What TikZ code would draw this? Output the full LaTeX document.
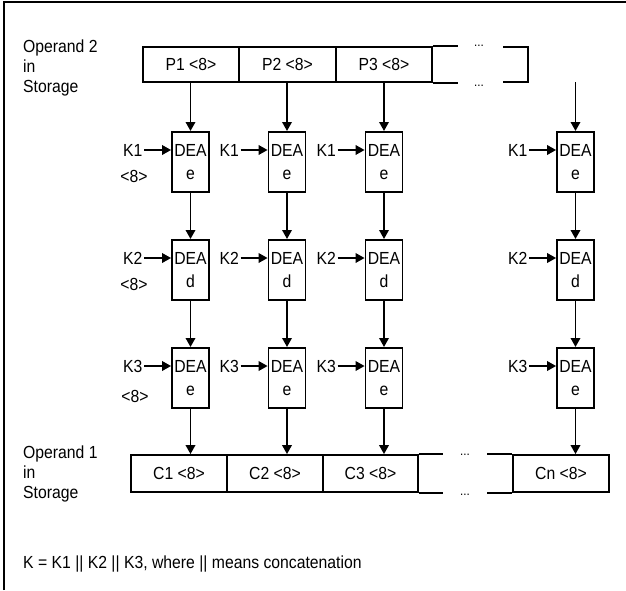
\documentclass[tikz,border=0pt]{standalone}
\usepackage{fontspec}
\setmainfont{Liberation Sans}[FakeStretch=0.9]
\usetikzlibrary{arrows.meta}
\begin{document}
\begin{tikzpicture}[x=1pt,y=-1pt,font=\fontsize{17.5}{20}\selectfont,
  ln/.style={line width=1.8pt},
  arr/.style={ln,-{Triangle[width=9.5pt,length=9pt]}},
  dea/.style={draw,ln,minimum width=37pt,minimum height=60pt,inner sep=0pt,anchor=north},
  cell/.style={draw,ln,minimum width=96pt,minimum height=35pt,inner sep=0pt},
  ccell/.style={draw,ln,minimum width=96pt,minimum height=37pt,inner sep=0pt},
  txt/.style={inner sep=0pt},
  dots/.style={inner sep=0pt,font=\fontsize{13}{15}\selectfont},
  klab/.style={inner xsep=1.5pt,inner ysep=0pt,anchor=east}]
\useasboundingbox (0,0) rectangle (626,590);
\draw[line width=2pt] (4,590) -- (4,2) -- (626,2);

% labels
\node[txt,anchor=north west,align=left] (op2) at (23,39.5) {Operand 2\\in\\Storage};
\node[txt,anchor=north west,align=left] (op1) at (23,445.5) {Operand 1\\in\\Storage};
\node[txt,anchor=base west] (note) at (23,568) {K = K1 || K2 || K3, where || means concatenation};

% top storage
\node[cell] (p1) at (191,64.5) {P1 <8>};
\node[cell] (p2) at (287.5,64.5) {P2 <8>};
\node[cell] (p3) at (384,64.5) {P3 <8>};
\coordinate (pt1) at (503,47);
\coordinate (pt2) at (528,47);
\coordinate (pt3) at (528,82);
\coordinate (pt4) at (503,82);
\draw[ln] (p3.north east) -- ++(25,0);
\draw[ln] (p3.south east) -- ++(25,0);
\draw[ln] (pt1) -- (pt2) -- (pt3) -- (pt4);
\node[dots,anchor=base] (pd1) at (479,46) {...};
\node[dots,anchor=base] (pd2) at (479,86) {...};
\coordinate (p4) at (575.5,82);

% bottom storage
\node[ccell] (c1) at (179,473.5) {C1 <8>};
\node[ccell] (c2) at (275,473.5) {C2 <8>};
\node[ccell,minimum width=95pt] (c3) at (370.5,473.5) {C3 <8>};
\node[ccell] (cn) at (561,473.5) {Cn <8>};
\draw[ln] (c3.north east) -- ++(24,0);
\draw[ln] (c3.south east) -- ++(24,0);
\draw[ln] (cn.north west) -- ++(-25,0);
\draw[ln] (cn.south west) -- ++(-25,0);
\node[dots,anchor=base] (cd1) at (465,455) {...};
\node[dots,anchor=base] (cd2) at (465,495) {...};

% DEA columns
\foreach \c/\x in {1/190.5,2/287,3/384,4/575.5} {
  \foreach \r/\t/\k/\m in {1/131/1/e,2/239/2/d,3/347/3/e} {
    \node[dea] (b\r\c) at (\x,\t) {};
    \node[txt,anchor=base] (bt\r\c) at (\x,\t+25) {DEA};
    \node[txt,anchor=base] (bm\r\c) at (\x,\t+48) {\m};
    \node[klab] (k\r\c) at (\x-46.5,\t+19) {K\k};
    \draw[arr] (k\r\c.east) -- (b\r\c.west |- k\r\c.east);
  }
}
\node[txt,anchor=base] (s1) at (134,182) {<8>};
\node[txt,anchor=base] (s2) at (134,290) {<8>};
\node[txt,anchor=base] (s3) at (135,402) {<8>};

% vertical arrows
\draw[arr] (b11.north |- p1.south) -- (b11.north);
\draw[arr] (b12.north |- p2.south) -- (b12.north);
\draw[arr] (b13.north |- p3.south) -- (b13.north);
\draw[arr] (p4) -- (b14.north);
\foreach \c in {1,2,3,4} {
  \draw[arr] (b1\c.south) -- (b2\c.north);
  \draw[arr] (b2\c.south) -- (b3\c.north);
  \draw[arr] (b3\c.south) -- (b3\c.south |- c1.north);
}
\end{tikzpicture}
\end{document}
